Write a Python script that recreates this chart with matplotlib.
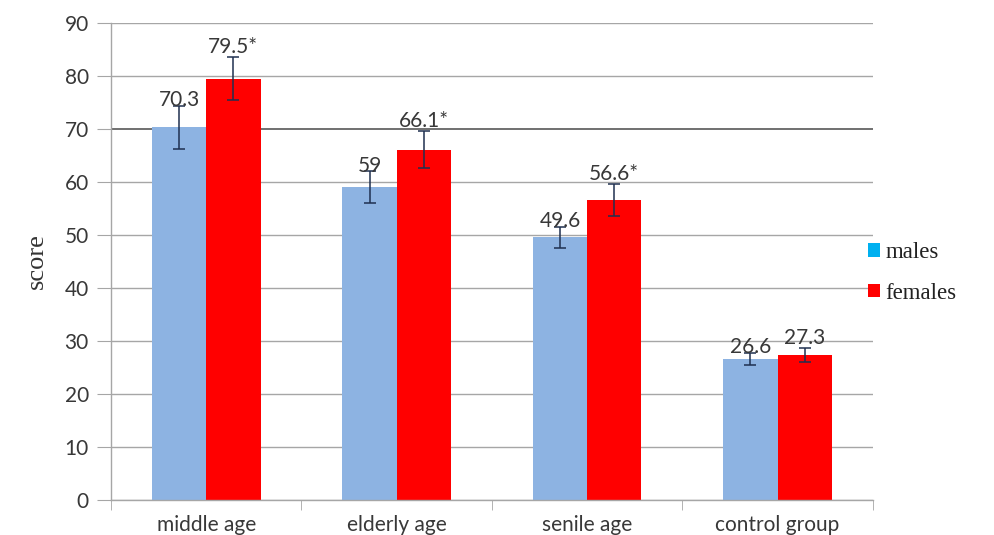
import matplotlib
matplotlib.use("Agg")
import matplotlib.pyplot as plt
import numpy as np
from matplotlib.patches import Patch

categories = ["middle age", "elderly age", "senile age", "control group"]
males = [70.3, 59.0, 49.6, 26.6]
females = [79.5, 66.1, 56.6, 27.3]
males_err = [4.0, 3.0, 2.0, 1.2]
females_err = [4.0, 3.5, 3.0, 1.3]
males_labels = ["70.3", "59", "49.6", "26.6"]
females_labels = ["79.5*", "66.1*", "56.6*", "27.3"]
yticks = [0, 10, 20, 30, 40, 50, 60, 70, 80, 90]

male_color = "#8DB3E2"
female_color = "#FF0000"
grid_color = "#A6A6A6"
text_color = "#383838"
sans = "Lato"
serif = "Liberation Serif"

fig = plt.figure(figsize=(9.95, 5.35), dpi=100)
ax = fig.add_axes([0.1116, 0.0654, 0.7656, 0.8916])

x = np.arange(len(categories))
w = 0.285
ax.bar(x - w / 2, males, w, color=male_color, zorder=2)
ax.bar(x + w / 2, females, w, color=female_color, zorder=2)
ax.errorbar(x - w / 2, males, yerr=males_err, fmt="none", ecolor="#1F3050",
            elinewidth=1.1, capsize=4, capthick=1.1, zorder=3)
ax.errorbar(x + w / 2, females, yerr=females_err, fmt="none", ecolor="#1F3050",
            elinewidth=1.1, capsize=4, capthick=1.1, zorder=3)

for xi, v, e, lab in zip(x - w / 2, males, males_err, males_labels):
    ax.annotate(lab, (xi, v + e), xytext=(0, -3), textcoords="offset points",
                ha="center", va="bottom", fontsize=15, color=text_color,
                family=sans, zorder=4)
for xi, v, e, lab in zip(x + w / 2, females, females_err, females_labels):
    ax.annotate(lab, (xi, v + e), xytext=(0, 0), textcoords="offset points",
                ha="center", va="bottom", fontsize=15, color=text_color,
                family=sans, zorder=4)

ax.set_xlim(-0.5, len(categories) - 0.5)
ax.set_ylim(0, 90)
ax.set_yticks(yticks)
ax.yaxis.grid(True, color=grid_color, linewidth=1.0, zorder=0)
ax.get_ygridlines()[7].set_color("#707070")
ax.get_ygridlines()[7].set_linewidth(1.4)
ax.set_axisbelow(True)

ax.set_xticks(x)
ax.set_xticklabels(categories, fontsize=15, color=text_color, family=sans)
ax.set_xticks(np.arange(len(categories) + 1) - 0.5, minor=True)
ax.tick_params(axis="x", which="major", length=0, pad=11)
ax.tick_params(axis="x", which="minor", length=7, color=grid_color, direction="out")
ax.tick_params(axis="y", length=10, color=grid_color, labelsize=15,
               labelcolor=text_color, pad=6)
for lab in ax.get_yticklabels():
    lab.set_family(sans)

for s in ["top", "right"]:
    ax.spines[s].set_visible(False)
for s in ["left", "bottom"]:
    ax.spines[s].set_color(grid_color)
    ax.spines[s].set_linewidth(1.0)

ax.set_ylabel("score", family=serif, fontsize=19, color="#333333",
              labelpad=12)

handles = [Patch(facecolor="#00B0F0", label="males"),
           Patch(facecolor=female_color, label="females")]
fig.legend(handles=handles, loc="center left", bbox_to_anchor=(0.852, 0.49),
           frameon=False, prop={"family": serif, "size": 16.5},
           handlelength=0.5, handleheight=0.5, handletextpad=0.25,
           labelspacing=0.85, labelcolor="#222222")

fig.savefig("out.png", dpi=100)
